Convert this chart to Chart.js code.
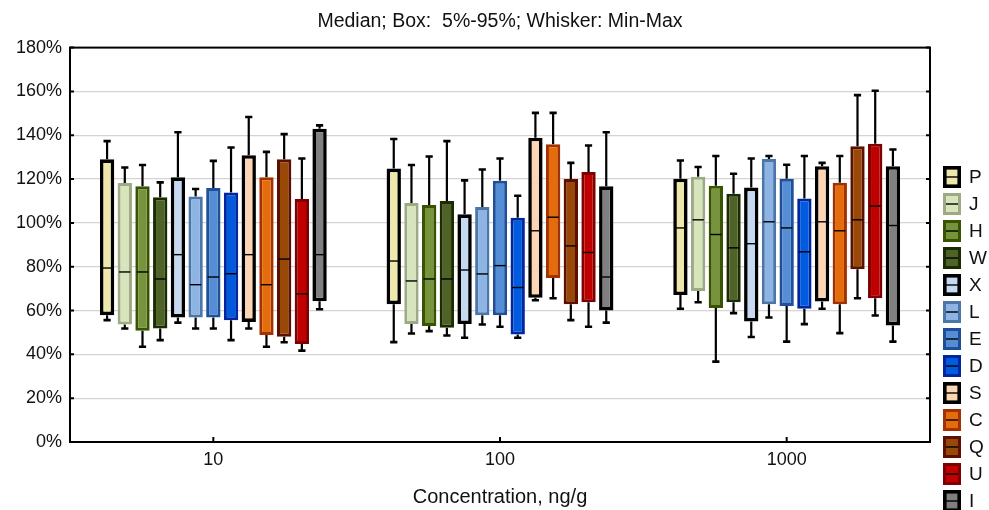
<!DOCTYPE html>
<html><head><meta charset="utf-8">
<script src="https://cdn.jsdelivr.net/npm/chart.js@4"></script>
<style>html,body{margin:0;padding:0;background:#fff;overflow:hidden}#wrap{width:989px;height:510px;position:relative}</style>
</head><body><div id="wrap"><canvas id="c"></canvas></div>
<script>
const chartTitle = 'Median; Box:  5%-95%; Whisker: Min-Max';
const xAxisTitle = 'Concentration, ng/g';
const categories = ['10', '100', '1000'];
const seriesNames = ['P', 'J', 'H', 'W', 'X', 'L', 'E', 'D', 'S', 'C', 'Q', 'U', 'I'];
const yTicks = [0, 20, 40, 60, 80, 100, 120, 140, 160, 180];
// values per series, per category (10, 100, 1000), in %
const minValues = [
  [55.6, 45.6, 60.8], [51.8, 49.5, 63.8], [43.5, 50.6, 36.7], [46.5, 48.6, 58.8],
  [54.5, 47.6, 47.9], [51.8, 53.6, 56.8], [51.8, 52.6, 45.8], [46.5, 47.6, 53.8],
  [51.8, 64.7, 60.8], [43.5, 65.6, 49.7], [45.5, 55.6, 65.6], [41.7, 52.6, 57.7],
  [60.6, 54.5, 45.8]
];
const p05Values = [
  [57.9, 62.9, 67.1], [53.6, 53.8, 68.9], [50.8, 52.9, 61.1], [51.8, 52.1, 63.8],
  [56.8, 53.8, 55.0], [56.8, 57.9, 62.9], [56.8, 57.9, 62.1], [55.6, 49.1, 60.8],
  [54.8, 65.8, 64.1], [48.8, 74.8, 62.9], [48.0, 62.9, 78.8], [44.7, 63.8, 65.6],
  [64.2, 60.0, 53.2]
];
const medianValues = [
  [79.4, 82.6, 97.7], [77.6, 73.5, 101.4], [77.6, 74.4, 94.7], [74.4, 74.4, 88.6],
  [85.5, 78.5, 90.5], [71.8, 76.7, 100.5], [75.3, 80.5, 97.7], [76.8, 70.5, 86.8],
  [85.5, 96.4, 100.5], [71.8, 102.6, 96.4], [83.5, 89.5, 101.4], [67.6, 86.5, 107.7],
  [85.5, 75.3, 98.8]
];
const p95Values = [
  [129.0, 124.8, 120.2], [118.2, 109.1, 121.1], [116.7, 108.2, 117.0], [111.7, 110.0, 113.3],
  [120.8, 103.9, 116.1], [112.0, 107.3, 129.2], [115.9, 119.2, 120.2], [113.9, 102.3, 111.1],
  [130.9, 138.9, 125.9], [120.8, 135.9, 118.3], [129.1, 120.0, 135.0], [110.9, 123.2, 136.1],
  [143.0, 116.7, 125.9]
];
const maxValues = [
  [137.3, 138.3, 128.5], [125.3, 126.4, 125.5], [126.4, 130.3, 130.5], [118.5, 137.3, 122.4],
  [141.4, 119.4, 129.4], [115.5, 124.4, 130.5], [128.3, 129.4, 126.5], [134.4, 112.4, 130.5],
  [148.3, 150.2, 127.4], [132.4, 150.2, 130.5], [140.5, 127.4, 158.3], [129.4, 135.3, 160.3],
  [144.5, 141.4, 133.5]
];
const fillColors = ['#EEE8AA', '#D8E4BC', '#77933C', '#4F6228', '#C6D9F1', '#8DB4E2', '#558ED5',
  '#005BDE', '#FCD5B5', '#E46C0A', '#984807', '#C00000', '#808080'];
const borderColors = ['#000000', '#9DAA86', '#385400', '#1B2D00', '#000000', '#4A76AA', '#1F4F99',
  '#0027A0', '#000000', '#A33200', '#5E1000', '#7F0000', '#000000'];

const FONT = "'Liberation Sans', Arial, sans-serif";
Chart.defaults.font.family = FONT;
Chart.defaults.color = '#111';

const borderW = c => (c === '#000000' ? 3.6 : 3);

const boxPlugin = {
  id: 'boxPlugin',
  beforeDatasetsDraw(chart) {
    const ctx = chart.ctx, y = chart.scales.y;
    ctx.save();
    ctx.strokeStyle = '#000';
    chart.data.datasets.forEach((ds, s) => {
      chart.getDatasetMeta(s).data.forEach((bar, c) => {
        const x = bar.x;
        const yMax = y.getPixelForValue(maxValues[s][c]);
        const yMin = y.getPixelForValue(minValues[s][c]);
        const yHi = y.getPixelForValue(p95Values[s][c]);
        const yLo = y.getPixelForValue(p05Values[s][c]);
        ctx.lineWidth = 2.2;
        ctx.beginPath();
        ctx.moveTo(x, yMax); ctx.lineTo(x, yHi);
        ctx.moveTo(x, yMin); ctx.lineTo(x, yLo);
        ctx.stroke();
        ctx.lineWidth = 2.6;
        ctx.beginPath();
        ctx.moveTo(x - 3.6, yMax); ctx.lineTo(x + 3.6, yMax);
        ctx.moveTo(x - 3.6, yMin); ctx.lineTo(x + 3.6, yMin);
        ctx.stroke();
      });
    });
    ctx.restore();
  },
  afterDatasetsDraw(chart) {
    const ctx = chart.ctx, y = chart.scales.y;
    ctx.save();
    ctx.strokeStyle = '#000';
    ctx.lineWidth = 1.4;
    chart.data.datasets.forEach((ds, s) => {
      chart.getDatasetMeta(s).data.forEach((bar, c) => {
        const ym = y.getPixelForValue(medianValues[s][c]);
        const hw = bar.width / 2;
        ctx.beginPath();
        ctx.moveTo(bar.x - hw + 1.5, ym); ctx.lineTo(bar.x + hw - 1.5, ym);
        ctx.stroke();
      });
    });
    // frame
    const a = chart.chartArea;
    ctx.lineWidth = 2;
    ctx.strokeRect(a.left, a.top, a.right - a.left, a.bottom - a.top);
    ctx.beginPath();
    yTicks.forEach(v => {
      const py = y.getPixelForValue(v);
      ctx.moveTo(a.left, py); ctx.lineTo(a.left + 4, py);
      ctx.moveTo(a.right, py); ctx.lineTo(a.right - 4, py);
    });
    const xs = chart.scales.x;
    categories.forEach((c, i) => {
      const px = xs.getPixelForValue(i);
      ctx.moveTo(px, a.bottom); ctx.lineTo(px, a.bottom - 5);
    });
    ctx.stroke();
    ctx.restore();
  },
  afterDraw(chart) {
    const ctx = chart.ctx;
    ctx.save();
    ctx.font = '19px ' + FONT;
    ctx.textBaseline = 'middle';
    ctx.textAlign = 'left';
    chart.data.datasets.forEach((ds, i) => {
      const cy = 177 + 27 * i;
      const x0 = 943, w = 18, h = 22;
      const bw = borderW(ds.borderColor);
      ctx.fillStyle = ds.backgroundColor;
      ctx.fillRect(x0, cy - h / 2, w, h);
      ctx.strokeStyle = ds.borderColor;
      ctx.lineWidth = bw;
      ctx.strokeRect(x0 + bw / 2, cy - h / 2 + bw / 2, w - bw, h - bw);
      ctx.strokeStyle = '#000';
      ctx.lineWidth = 1.4;
      ctx.beginPath(); ctx.moveTo(x0 + 3, cy); ctx.lineTo(x0 + w - 3, cy); ctx.stroke();
      ctx.fillStyle = '#111';
      ctx.fillText(ds.label, 969, cy + 1);
    });
    ctx.restore();
  }
};

new Chart(document.getElementById('c'), {
  type: 'bar',
  data: {
    labels: categories,
    datasets: seriesNames.map((name, s) => ({
      label: name,
      data: categories.map((_, c) => [p05Values[s][c], p95Values[s][c]]),
      backgroundColor: fillColors[s],
      borderColor: borderColors[s],
      borderWidth: borderW(borderColors[s]),
      borderSkipped: false,
      categoryPercentage: 0.803,
      barPercentage: 0.81
    }))
  },
  options: {
    responsive: true,
    maintainAspectRatio: false,
    animation: false,
    layout: { padding: { left: 0, right: 59, top: 0, bottom: 0 } },
    plugins: {
      legend: { display: false },
      tooltip: { enabled: false },
      title: {
        display: true, text: chartTitle, color: '#111', fullSize: false,
        font: { size: 19.5, weight: 'normal' },
        padding: { top: 10, bottom: 14.2 }
      }
    },
    scales: {
      x: {
        grid: { display: false, drawTicks: false },
        border: { display: false },
        ticks: { font: { size: 18 }, padding: 7, color: '#111' },
        title: { display: true, text: xAxisTitle, font: { size: 20 }, color: '#111', padding: { top: 0, bottom: 1 } },
        afterFit(scale) { scale.height = 68; }
      },
      y: {
        min: 0, max: 180,
        grid: { color: '#d4d4d4', lineWidth: 1.3, drawTicks: false },
        border: { display: false },
        ticks: { stepSize: 20, font: { size: 18 }, padding: 8, color: '#111', callback: v => v + '%' },
        afterFit(scale) { scale.width = 70; }
      }
    }
  },
  plugins: [boxPlugin]
});
</script></body></html>
